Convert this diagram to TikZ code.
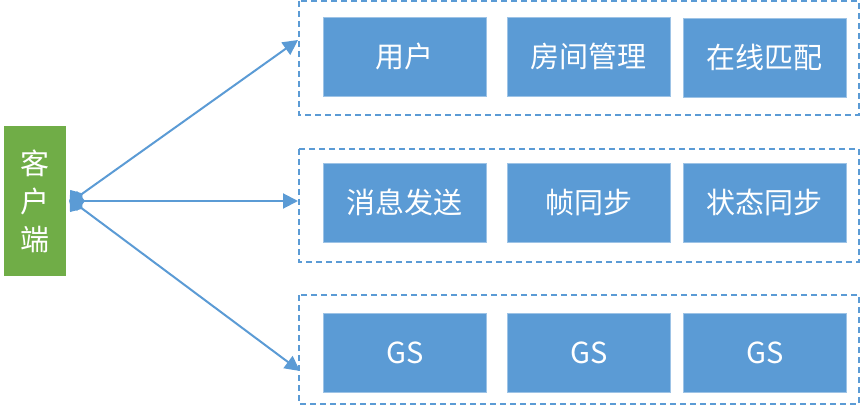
\documentclass[tikz,border=0pt]{standalone}
\usepackage{fontspec}
\setmainfont{Noto Sans CJK SC}
\usetikzlibrary{arrows.meta}
\definecolor{boxblue}{HTML}{5B9BD5}
\definecolor{clientgreen}{HTML}{70AD47}
\tikzset{
  item/.style={fill=boxblue, draw=boxblue!60!white, line width=0.6pt, minimum width=163pt, minimum height=79pt, inner sep=0pt, text=white, font=\fontsize{29}{32}\selectfont, anchor=north west},
  group/.style={draw=boxblue, dashed, dash pattern=on 6pt off 4pt, line width=1.4pt},
  conn/.style={draw=boxblue, line width=2pt, {Diamond[length=16pt,width=20pt]}-{Triangle[length=15pt,width=15pt]}, shorten <=-3pt},
}
\begin{document}
\begin{tikzpicture}[x=1pt,y=-1pt]
\useasboundingbox (0,0) rectangle (864,406);
% client
\node[fill=clientgreen, minimum width=62pt, minimum height=150pt, inner sep=0pt, anchor=north west, text=white, font=\fontsize{29}{38}\selectfont, align=center] (client) at (4,126) {客\\户\\端};
\coordinate (src) at (72,201);
% groups
\draw[group] (299,1) rectangle (859,115);
\draw[group] (299,149) rectangle (859,262);
\draw[group] (299,295) rectangle (859,404);
\coordinate (g1) at (298,40);
\coordinate (g2) at (298,201);
\coordinate (g3) at (300,371);
% items row 1
\node[item] (u) at (323,17) {用户};
\node[item] (r) at (507,17) {房间管理};
\node[item] (m) at (683,18) {在线匹配};
% row 2
\node[item] (s1) at (323,163) {消息发送};
\node[item] (s2) at (507,163) {帧同步};
\node[item] (s3) at (683,163) {状态同步};
% row 3
\node[item] (gs1) at (323,313) {GS};
\node[item] (gs2) at (507,313) {GS};
\node[item] (gs3) at (683,313) {GS};
% connectors
\draw[conn] (src) -- (g1);
\draw[conn] (src) -- (g2);
\draw[conn] (src) -- (g3);
\end{tikzpicture}
\end{document}
